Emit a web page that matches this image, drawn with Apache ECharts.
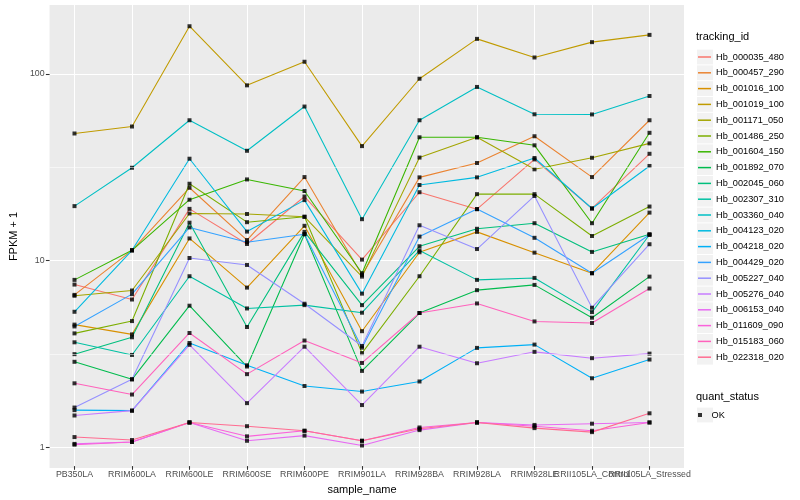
<!DOCTYPE html>
<html><head><meta charset="utf-8">
<script src="https://cdn.jsdelivr.net/npm/echarts@6/dist/echarts.min.js"></script>
<style>html,body{margin:0;padding:0;background:#fff}#c{width:800px;height:500px}</style>
</head><body><div id="c"></div>
<script>
// ---- data ----
const categories = ['PB350LA','RRIM600LA','RRIM600LE','RRIM600SE','RRIM600PE','RRIM901LA','RRIM928BA','RRIM928LA','RRIM928LE','RRII105LA_Control','RRII105LA_Stressed'];
const trackingIds = ['Hb_000035_480','Hb_000457_290','Hb_001016_100','Hb_001019_100','Hb_001171_050','Hb_001486_250','Hb_001604_150','Hb_001892_070','Hb_002045_060','Hb_002307_310','Hb_003360_040','Hb_004123_020','Hb_004218_020','Hb_004429_020','Hb_005227_040','Hb_005276_040','Hb_006153_040','Hb_011609_090','Hb_015183_060','Hb_022318_020'];
const Hb_000035_480 = [7.34, 6.10, 18.75, 12.13, 21.85, 10.0, 23.04, 18.68, 34.6, 18.84, 37.1];
const Hb_000457_290 = [6.46, 11.22, 24.35, 12.74, 27.8, 8.27, 27.7, 33.1, 46.1, 27.8, 56.2];
const Hb_001016_100 = [4.47, 3.96, 13.0, 7.07, 15.2, 4.12, 10.95, 14.1, 10.9, 8.45, 17.9];
const Hb_001019_100 = [47.7, 52.0, 180.1, 86.6, 116, 40.8, 94.0, 154, 122.3, 147.9, 161.8];
const Hb_001171_050 = [6.39, 6.82, 17.7, 17.6, 17.0, 8.10, 35.4, 45.5, 30.6, 35.3, 42.2];
const Hb_001486_250 = [4.01, 4.67, 25.6, 15.9, 17.0, 3.14, 8.14, 22.5, 22.5, 13.4, 19.3];
const Hb_001604_150 = [7.78, 11.22, 21.0, 27.0, 23.4, 8.45, 45.5, 45.5, 41.2, 15.7, 48.1];
const Hb_001892_070 = [2.82, 2.27, 5.65, 2.66, 13.7, 2.52, 5.16, 6.85, 7.31, 4.87, 8.10];
const Hb_002045_060 = [3.10, 3.82, 15.8, 4.34, 14.1, 5.69, 11.8, 14.65, 15.7, 11.0, 13.7];
const Hb_002307_310 = [3.59, 3.07, 8.14, 5.46, 5.69, 5.18, 11.2, 7.78, 7.97, 5.22, 13.6];
const Hb_003360_040 = [19.4, 31.2, 56.2, 38.5, 66.6, 16.5, 56.2, 84.9, 60.5, 60.4, 75.9];
const Hb_004123_020 = [5.24, 11.22, 34.9, 14.15, 20.9, 6.56, 25.2, 27.7, 35.2, 18.84, 31.9];
const Hb_004218_020 = [1.55, 1.54, 3.56, 2.70, 2.09, 1.95, 2.21, 3.35, 3.49, 2.30, 2.90];
const Hb_004429_020 = [4.37, 6.52, 14.9, 12.4, 13.7, 3.36, 13.3, 18.7, 13.1, 8.45, 13.6];
const Hb_005227_040 = [1.60, 2.27, 10.2, 9.36, 5.79, 3.43, 15.3, 11.4, 22.0, 5.51, 12.1];
const Hb_005276_040 = [1.45, 1.54, 3.48, 1.69, 3.40, 1.65, 3.40, 2.77, 3.19, 2.95, 3.12];
const Hb_006153_040 = [1.02, 1.045, 1.33, 1.06, 1.13, 1.0, 1.21, 1.33, 1.29, 1.31, 1.33];
const Hb_011609_090 = [1.01, 1.045, 1.33, 1.12, 1.20, 1.06, 1.25, 1.33, 1.27, 1.20, 1.33];
const Hb_015183_060 = [2.16, 1.88, 4.03, 2.42, 3.67, 2.78, 5.16, 5.81, 4.65, 4.56, 6.99];
const Hb_022318_020 = [1.11, 1.07, 1.33, 1.27, 1.20, 1.06, 1.23, 1.33, 1.24, 1.18, 1.49];
const yTickValues = [1, 10, 100];
const yMinorValues = [3.1623, 31.623];
const quantStatus = ['OK'];

// ---- styles ----
const colors = ['#F8766D','#EA8331','#D89000','#C09B00','#A3A500','#7CAE00','#39B600','#00BB4E','#00BF7D','#00C1A3','#00BFC4','#00BAE0','#00B0F6','#35A2FF','#9590FF','#C77CFF','#E76BF3','#FA62DB','#FF62BC','#FF6C91'];
const FONT = '"Liberation Sans", Arial, Helvetica, sans-serif';
const seriesValues = [Hb_000035_480,Hb_000457_290,Hb_001016_100,Hb_001019_100,Hb_001171_050,Hb_001486_250,Hb_001604_150,Hb_001892_070,Hb_002045_060,Hb_002307_310,Hb_003360_040,Hb_004123_020,Hb_004218_020,Hb_004429_020,Hb_005227_040,Hb_005276_040,Hb_006153_040,Hb_011609_090,Hb_015183_060,Hb_022318_020];

const yMin = 0.7747, yMax = 234.3;
const panel = {left: 40, top: 5, width: 644, height: 463};
const dataGrid = {left: 74.5, top: 5, width: 575, height: 463};

const KEY = 15.8, KEYW = 16, legendX = 697, firstKeyCenter = 57;
const leg1TitleY = 38, leg2TitleY = 398, leg2KeyCenter = 415;

const chart = echarts.init(document.getElementById('c'), null, {renderer: 'canvas'});

const lineSeries = trackingIds.map((id, i) => ({
  type: 'line', name: id, xAxisIndex: 0, yAxisIndex: 0,
  data: seriesValues[i], symbol: 'none', showSymbol: false,
  color: colors[i],
  lineStyle: {width: 1.07, color: colors[i]}, itemStyle: {color: colors[i]},
  emphasis: {disabled: true}, silent: true, animation: false, z: 2
}));
const points = [];
seriesValues.forEach(arr => arr.forEach((v, j) => points.push([categories[j], v])));

const keyBoxes = [];
for (let i = 0; i < trackingIds.length; i++) {
  keyBoxes.push({type: 'rect', left: legendX, top: firstKeyCenter - KEY / 2 + i * KEY + 0.5,
    shape: {width: KEYW, height: KEY - 1}, style: {fill: '#F2F2F2'}, z: -1, silent: true});
}
keyBoxes.push({type: 'rect', left: legendX, top: leg2KeyCenter - KEY / 2 + 0.5,
  shape: {width: KEYW, height: KEY - 1}, style: {fill: '#F2F2F2'}, z: -1, silent: true});

const titleStyle = {fontSize: 11, fontWeight: 'normal', color: '#000', fontFamily: FONT};
const option = {
  backgroundColor: '#fff',
  animation: false,
  textStyle: {fontFamily: FONT},
  title: [
    {text: 'tracking_id', left: 696, top: leg1TitleY - 6.5, padding: 0, textStyle: titleStyle},
    {text: 'quant_status', left: 696, top: leg2TitleY - 6.5, padding: 0, textStyle: titleStyle}
  ],
  graphic: keyBoxes,
  grid: [
    Object.assign({show: false, containLabel: false}, dataGrid),
    Object.assign({show: true, backgroundColor: '#EBEBEB', borderWidth: 0, containLabel: false}, panel)
  ],
  xAxis: [
    {type: 'category', gridIndex: 0, data: categories, boundaryGap: false,
      axisLine: {show: false},
      axisTick: {show: true, length: 3.7, lineStyle: {color: '#333333', width: 1.07}},
      axisLabel: {interval: 0, fontSize: 8.8, color: '#4D4D4D', margin: 4, fontFamily: FONT, hideOverlap: false},
      splitLine: {show: true, lineStyle: {color: '#FFFFFF', width: 1.07}},
      name: 'sample_name', nameLocation: 'middle', nameGap: 14.5,
      nameTextStyle: {fontSize: 11, color: '#000', fontFamily: FONT}, z: 1},
    {type: 'value', gridIndex: 1, min: 0, max: 1, show: false}
  ],
  yAxis: [
    {type: 'log', logBase: 10, gridIndex: 0, min: yMin, max: yMax, show: false},
    {type: 'log', logBase: 10, gridIndex: 1, min: yMin, max: yMax,
      axisLine: {show: false},
      axisTick: {show: true, length: 3.7, customValues: yTickValues, lineStyle: {color: '#333333', width: 1.07}},
      axisLabel: {customValues: yTickValues, fontSize: 8.8, color: '#4D4D4D', margin: 5, fontFamily: FONT,
        formatter: v => String(Math.round(v))},
      splitLine: {show: true, lineStyle: {color: '#FFFFFF', width: 1.07}},
      name: 'FPKM + 1', nameLocation: 'middle', nameRotate: 90, nameGap: 20.5,
      nameTextStyle: {fontSize: 11, color: '#000', fontFamily: FONT}}
  ],
  legend: [
    {data: trackingIds, orient: 'vertical', left: legendX + 1, top: firstKeyCenter - KEY / 2,
      itemWidth: 13, itemHeight: 1.5, itemGap: 0, icon: 'rect', selectedMode: false, padding: 0,
      textStyle: {fontSize: 9.2, color: '#000', lineHeight: KEY, height: KEY, fontFamily: FONT}},
    {data: quantStatus, orient: 'vertical', left: legendX + 1, top: leg2KeyCenter - KEY / 2,
      itemWidth: 13, itemHeight: 4, itemGap: 0, icon: 'path://M0,0L1,0L1,1L0,1Z', selectedMode: false, padding: 0,
      textStyle: {fontSize: 9.2, color: '#000', lineHeight: KEY, height: KEY, fontFamily: FONT}}
  ],
  series: [
    {type: 'line', xAxisIndex: 1, yAxisIndex: 1, data: [], silent: true, z: 1,
      markLine: {silent: true, symbol: 'none', label: {show: false}, animation: false,
        lineStyle: {color: '#FFFFFF', width: 0.55, type: 'solid'},
        data: yMinorValues.map(v => ({yAxis: v}))}},
    ...lineSeries,
    {type: 'scatter', name: 'OK', xAxisIndex: 0, yAxisIndex: 0, data: points,
      symbol: 'rect', symbolSize: 4, itemStyle: {color: '#000000'}, silent: true, z: 3, animation: false}
  ]
};
chart.setOption(option);
</script>
</body></html>
